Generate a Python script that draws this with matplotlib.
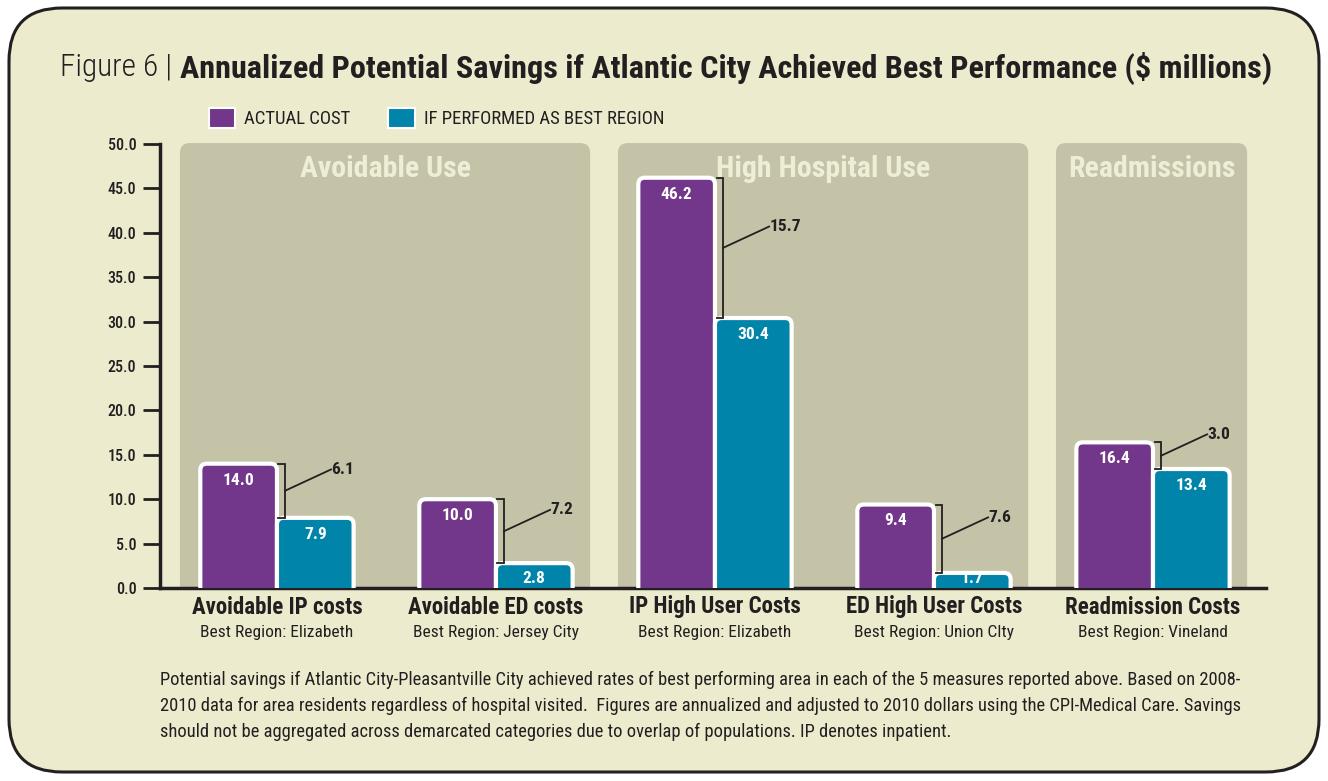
import numpy as np
import matplotlib.pyplot as plt
from matplotlib.patches import FancyBboxPatch, Patch
from matplotlib.transforms import blended_transform_factory

# data
categories = ['Avoidable IP costs', 'Avoidable ED costs', 'IP High User Costs',
              'ED High User Costs', 'Readmission Costs']
best_regions = ['Best Region: Elizabeth', 'Best Region: Jersey City', 'Best Region: Elizabeth',
                'Best Region: Union CIty', 'Best Region: Vineland']
actual_cost = [14.0, 10.0, 46.2, 9.4, 16.4]
best_cost = [7.9, 2.8, 30.4, 1.7, 13.4]
savings = ['6.1', '7.2', '15.7', '7.6', '3.0']
groups = ['Avoidable Use', 'High Hospital Use', 'Readmissions']
group_members = [[0, 1], [2, 3], [4]]
yticks = np.arange(0, 50.1, 5)

PURPLE = '#72368A'
TEAL = '#0084A9'
PANEL = '#C4C3A8'
CREAM = '#EDEBCE'
DARK = '#231F20'

plt.rcParams['font.family'] = ['Roboto Condensed', 'Open Sans Condensed',
                               'Liberation Sans Narrow', 'Roboto', 'DejaVu Sans']

W, H = 1328, 781
fig = plt.figure(figsize=(W / 100, H / 100), dpi=100)
fig.patch.set_facecolor('white')
renderer = fig.canvas.get_renderer()


def fit_width(txt, target_px):
    # shrink/grow a text so that it spans target_px wide
    wd = txt.get_window_extent(renderer).width
    txt.set_fontsize(txt.get_fontsize() * target_px / wd)


# outer rounded frame
frame = FancyBboxPatch((9 / W, 9 / H), 1310 / W, 764 / H,
                       boxstyle='round,pad=0,rounding_size=0.04',
                       mutation_aspect=W / H,
                       transform=fig.transFigure, facecolor=CREAM,
                       edgecolor=DARK, linewidth=2.2, zorder=-10)
fig.patches.append(frame)

ax = fig.add_axes([160 / W, 1 - 588 / H, 1106 / W, 446.7 / H])
ax.set_facecolor('none')
ax.set_xlim(-0.534, 4.516)
ax.set_ylim(0, 50.3)

px_x = 219.0   # pixels per x unit
px_y = 8.88    # pixels per y unit
asp = px_x / px_y

# background panels
for name, mem in zip(groups, group_members):
    x0 = mem[0] - 0.443
    x1 = mem[-1] + 0.43
    p = FancyBboxPatch((x0, -3), x1 - x0, 53.1,
                       boxstyle='round,pad=0,rounding_size=0.045',
                       mutation_aspect=asp, facecolor=PANEL,
                       edgecolor='none', zorder=0)
    ax.add_patch(p)
    t = ax.text((x0 + x1) / 2, 47.2, name, ha='center', va='center',
                fontsize=21.5, fontweight='bold', color='#EEEDD6', zorder=1)

# bars
x = np.arange(len(categories))
w = 0.35
for vals, col, off in [(actual_cost, PURPLE, -w / 2), (best_cost, TEAL, w / 2)]:
    bars = ax.bar(x + off, vals, w, color=col)
    for b, v in zip(bars, vals):
        b.remove()
        fb = FancyBboxPatch((b.get_x(), -3), b.get_width(), b.get_height() + 3,
                            boxstyle='round,pad=0,rounding_size=0.03',
                            mutation_aspect=asp, facecolor=col,
                            edgecolor='white', linewidth=3, zorder=3)
        ax.add_patch(fb)
        ax.text(b.get_x() + b.get_width() / 2, max(v - 1.85, 1.1), f'{v:.1f}',
                ha='center', va='center', fontsize=12.5, fontweight='bold',
                color='white', zorder=4)

# difference brackets
for i in range(len(categories)):
    bx = i + 0.037
    top, bot = actual_cost[i], best_cost[i]
    tk = 0.03
    ax.plot([bx - tk, bx, bx, bx - tk], [top, top, bot, bot],
            color=DARK, lw=1.3, zorder=4, solid_joinstyle='miter')
    mid = (top + bot) / 2
    ax.plot([bx, bx + 0.21], [mid, mid + 2.4], color=DARK, lw=1.3, zorder=4)
    ax.text(bx + 0.212, mid + 2.4, savings[i], ha='left', va='center',
            fontsize=12.5, fontweight='bold', color=DARK, zorder=4)

# axes styling
for s in ['top', 'right']:
    ax.spines[s].set_visible(False)
ax.spines['left'].set_bounds(0, 50)
ax.spines['left'].set_linewidth(2.5)
ax.spines['bottom'].set_linewidth(2.5)
ax.spines['left'].set_color(DARK)
ax.spines['bottom'].set_color(DARK)
ax.set_yticks(yticks)
ax.set_yticklabels([f'{t:.1f}' for t in yticks], fontsize=11.5, color=DARK,
                   fontweight='medium')
ax.tick_params(axis='y', length=12, width=2, color=DARK, pad=5)
ax.set_xticks([])

trans = blended_transform_factory(ax.transData, fig.transFigure)
for i, (c, r) in enumerate(zip(categories, best_regions)):
    ax.text(i, 1 - 607 / H, c, transform=trans, ha='center', va='center',
            fontsize=16.5, fontweight='bold', color=DARK)
    ax.text(i, 1 - 633 / H, r, transform=trans, ha='center', va='center',
            fontsize=12.5, color=DARK)

# title
t1 = fig.text(60 / W, 1 - 68 / H, 'Figure 6 |', fontsize=21, color=DARK,
              va='center', ha='left', fontweight='light')
fit_width(t1, 112)
t2 = fig.text(180 / W, 1 - 68 / H,
              'Annualized Potential Savings if Atlantic City Achieved Best Performance ($ millions)',
              fontsize=21, fontweight='bold', color=DARK, va='center', ha='left')
fit_width(t2, 1095)

# legend
handles = [Patch(facecolor=PURPLE, edgecolor='white', linewidth=1.5, label='ACTUAL COST'),
           Patch(facecolor=TEAL, edgecolor='white', linewidth=1.5, label='IF PERFORMED AS BEST REGION')]
fig.legend(handles=handles, loc='center left', bbox_to_anchor=(192 / W, 1 - 118 / H),
           ncol=2, frameon=False, fontsize=13.5, handlelength=1.4, handleheight=1.25,
           handletextpad=0.5, columnspacing=2.0, labelcolor=DARK)

# footnote
note = ('Potential savings if Atlantic City-Pleasantville City achieved rates of best performing area in each of the 5 measures reported above. Based on 2008-\n'
        '2010 data for area residents regardless of hospital visited.  Figures are annualized and adjusted to 2010 dollars using the CPI-Medical Care. Savings\n'
        'should not be aggregated across demarcated categories due to overlap of populations. IP denotes inpatient.')
fn = fig.text(160 / W, 1 - 671 / H, note, fontsize=11, color=DARK, va='top', ha='left',
              linespacing=1.55)
fit_width(fn, 1078)

fig.savefig('out.png', dpi=100, facecolor='white')
